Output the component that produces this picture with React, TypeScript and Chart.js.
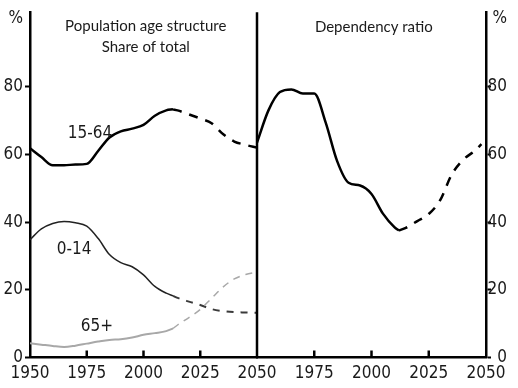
import React, { useEffect, useRef } from "react";
import { Chart, registerables } from "chart.js";
Chart.register(...registerables);

// ---- Data ----
const histYears = [1950, 1955, 1960, 1965, 1970, 1975, 1980, 1985, 1990, 1995, 2000, 2005, 2010, 2013];
const projYears = [2013, 2015, 2020, 2025, 2030, 2035, 2040, 2045, 2050];
const age1564Hist = [61.8, 59.2, 56.8, 56.8, 57.0, 57.2, 61.0, 65.0, 66.8, 67.6, 68.7, 71.4, 73.0, 73.3];
const age1564Proj = [73.3, 73.0, 71.8, 70.6, 69.2, 66.0, 63.8, 62.8, 62.0];
const age014Hist = [34.8, 38.0, 39.6, 40.2, 39.8, 38.8, 35.2, 30.4, 28.0, 26.8, 24.4, 21.0, 19.0, 18.2];
const age014Proj = [18.2, 17.6, 16.5, 15.5, 14.3, 13.7, 13.4, 13.3, 13.2];
const age65Hist = [4.2, 3.8, 3.4, 3.1, 3.5, 4.1, 4.7, 5.2, 5.4, 5.9, 6.7, 7.2, 7.8, 8.6];
const age65Proj = [8.6, 9.6, 11.8, 14.2, 17.5, 20.8, 23.2, 24.5, 25.3];
const depHistYears = [1950, 1955, 1960, 1965, 1970, 1975, 1980, 1985, 1990, 1995, 2000, 2005, 2010, 2012];
const depProjYears = [2012, 2015, 2020, 2025, 2030, 2035, 2040, 2045, 2048];
const depHist = [63.5, 73.0, 78.4, 79.2, 78.0, 78.0, 69.4, 58.0, 51.6, 50.8, 48.3, 42.5, 38.5, 37.5];
const depProj = [37.5, 38.3, 40.3, 42.4, 46.5, 54.0, 58.4, 61.0, 63.0];
const yTickValues = [0, 20, 40, 60, 80, 100];
const leftTitle = ["Population age structure", "Share of total"];
const rightTitle = "Dependency ratio";
const seriesLabels = ["15-64", "0-14", "65+"];

const TICK_FONT = { family: "'Liberation Sans Narrow', 'DejaVu Sans Condensed', sans-serif", size: 17 };
const TITLE_FONT = "15px Lato, 'DejaVu Sans', sans-serif";
const LABEL_FONT = "17px 'Liberation Sans Narrow', 'DejaVu Sans Condensed', sans-serif";
const TEXT_COLOR = "#1a1a1a";

const pts = (xs: number[], ys: number[]) => xs.map((x, i) => ({ x, y: ys[i] }));

function lineDs(data: any, color: string, width: number, dash: number[] = []) {
  return {
    data,
    borderColor: color,
    borderWidth: width,
    borderDash: dash,
    pointRadius: 0,
    cubicInterpolationMode: "monotone" as const,
    fill: false,
  };
}

function makeScales(side: "left" | "right") {
  return {
    x: {
      type: "linear" as const,
      min: 1950,
      max: 2050,
      ticks: {
        stepSize: 25,
        autoSkip: false,
        maxRotation: 0,
        padding: 6,
        font: TICK_FONT,
        color: TEXT_COLOR,
        callback: (v: any) => (side === "right" && v === 1950 ? "" : String(v)),
      },
      grid: { drawOnChartArea: false, drawTicks: false },
      border: { color: "#000", width: 2.5 },
      afterFit: (s: any) => {
        s.height = 30.5;
      },
    },
    y: {
      type: "linear" as const,
      position: side,
      min: 0,
      max: 102,
      afterBuildTicks: (s: any) => {
        s.ticks = yTickValues.map((v) => ({ value: v }));
      },
      ticks: {
        padding: 2,
        font: TICK_FONT,
        color: TEXT_COLOR,
        crossAlign: side === "right" ? ("far" as const) : ("near" as const),
        callback: (v: any) => (v === 100 ? "%" : String(v)),
      },
      grid: {
        drawOnChartArea: false,
        drawTicks: true,
        tickLength: 5,
        tickWidth: 2,
        tickColor: (ctx: any) => (ctx.tick && ctx.tick.value === 100 ? "rgba(0,0,0,0)" : "#000"),
      },
      border: { color: "#000", width: 2.5 },
      afterFit: (s: any) => {
        s.width = side === "left" ? 30 : 21;
      },
    },
  };
}

function innerTicks(chart: any) {
  const { ctx, chartArea } = chart;
  const xs = chart.scales.x;
  ctx.save();
  ctx.strokeStyle = "#000";
  ctx.lineWidth = 2.5;
  xs.ticks.forEach((t: any) => {
    if (t.value === xs.min || t.value === xs.max) return;
    const px = xs.getPixelForValue(t.value);
    ctx.beginPath();
    ctx.moveTo(px, chartArea.bottom);
    ctx.lineTo(px, chartArea.bottom - 7);
    ctx.stroke();
  });
  ctx.restore();
}

const leftPlugin = {
  id: "leftDecor",
  afterDraw(chart: any) {
    const { ctx, chartArea } = chart;
    const xs = chart.scales.x;
    const ys = chart.scales.y;
    innerTicks(chart);
    // divider
    ctx.save();
    ctx.strokeStyle = "#000";
    ctx.lineWidth = 2.5;
    ctx.beginPath();
    ctx.moveTo(chartArea.right, chartArea.top);
    ctx.lineTo(chartArea.right, chartArea.bottom);
    ctx.stroke();
    // titles
    ctx.fillStyle = TEXT_COLOR;
    ctx.textAlign = "center";
    ctx.textBaseline = "middle";
    ctx.font = TITLE_FONT;
    ctx.fillText(leftTitle[0], xs.getPixelForValue(2001), ys.getPixelForValue(97.8));
    ctx.fillText(leftTitle[1], xs.getPixelForValue(2001), ys.getPixelForValue(91.6));
    ctx.font = LABEL_FONT;
    ctx.fillText(seriesLabels[0], xs.getPixelForValue(1976.4), ys.getPixelForValue(66));
    ctx.fillText(seriesLabels[1], xs.getPixelForValue(1969.4), ys.getPixelForValue(31.9));
    ctx.fillText(seriesLabels[2], xs.getPixelForValue(1979.5), ys.getPixelForValue(9.2));
    ctx.restore();
  },
};

const rightPlugin = {
  id: "rightDecor",
  afterDraw(chart: any) {
    const { ctx } = chart;
    const xs = chart.scales.x;
    const ys = chart.scales.y;
    innerTicks(chart);
    ctx.save();
    ctx.fillStyle = TEXT_COLOR;
    ctx.textAlign = "center";
    ctx.textBaseline = "middle";
    ctx.font = TITLE_FONT;
    ctx.fillText(rightTitle, xs.getPixelForValue(2001), ys.getPixelForValue(97.6));
    ctx.restore();
  },
};

export default function App() {
  const leftRef = useRef<HTMLCanvasElement>(null);
  const rightRef = useRef<HTMLCanvasElement>(null);

  useEffect(() => {
    const common = {
      responsive: false,
      animation: false as const,
      plugins: { legend: { display: false }, tooltip: { enabled: false } },
    };
    const left = new Chart(leftRef.current!, {
      type: "line",
      data: {
        datasets: [
          lineDs(pts(histYears, age65Hist), "#a8a8a8", 2),
          lineDs(pts(projYears, age65Proj), "#a8a8a8", 1.5, [7, 6]),
          lineDs(pts(histYears, age014Hist), "#222", 1.5),
          lineDs(pts(projYears, age014Proj), "#3a3a3a", 2, [7, 7]),
          lineDs(pts(histYears, age1564Hist), "#000", 2.5),
          lineDs(pts(projYears, age1564Proj), "#000", 2.5, [9, 8]),
        ],
      },
      options: {
        ...common,
        layout: { padding: { left: 0, top: 11, right: 261, bottom: 0 } },
        scales: makeScales("left"),
      } as any,
      plugins: [leftPlugin],
    });
    const right = new Chart(rightRef.current!, {
      type: "line",
      data: {
        datasets: [
          lineDs(pts(depHistYears, depHist), "#000", 2.5),
          lineDs(pts(depProjYears, depProj), "#000", 2.5, [9, 8]),
        ],
      },
      options: {
        ...common,
        layout: { padding: { left: 257, top: 11, right: 11, bottom: 0 } },
        scales: makeScales("right"),
      } as any,
      plugins: [rightPlugin],
    });
    return () => {
      left.destroy();
      right.destroy();
    };
  }, []);

  const canvasStyle: React.CSSProperties = { position: "absolute", left: 0, top: 0 };
  return (
    <div style={{ position: "fixed", left: 0, top: 0, width: 518, height: 388, background: "#fff" }}>
      <canvas ref={leftRef} width={518} height={388} style={canvasStyle} />
      <canvas ref={rightRef} width={518} height={388} style={canvasStyle} />
    </div>
  );
}
